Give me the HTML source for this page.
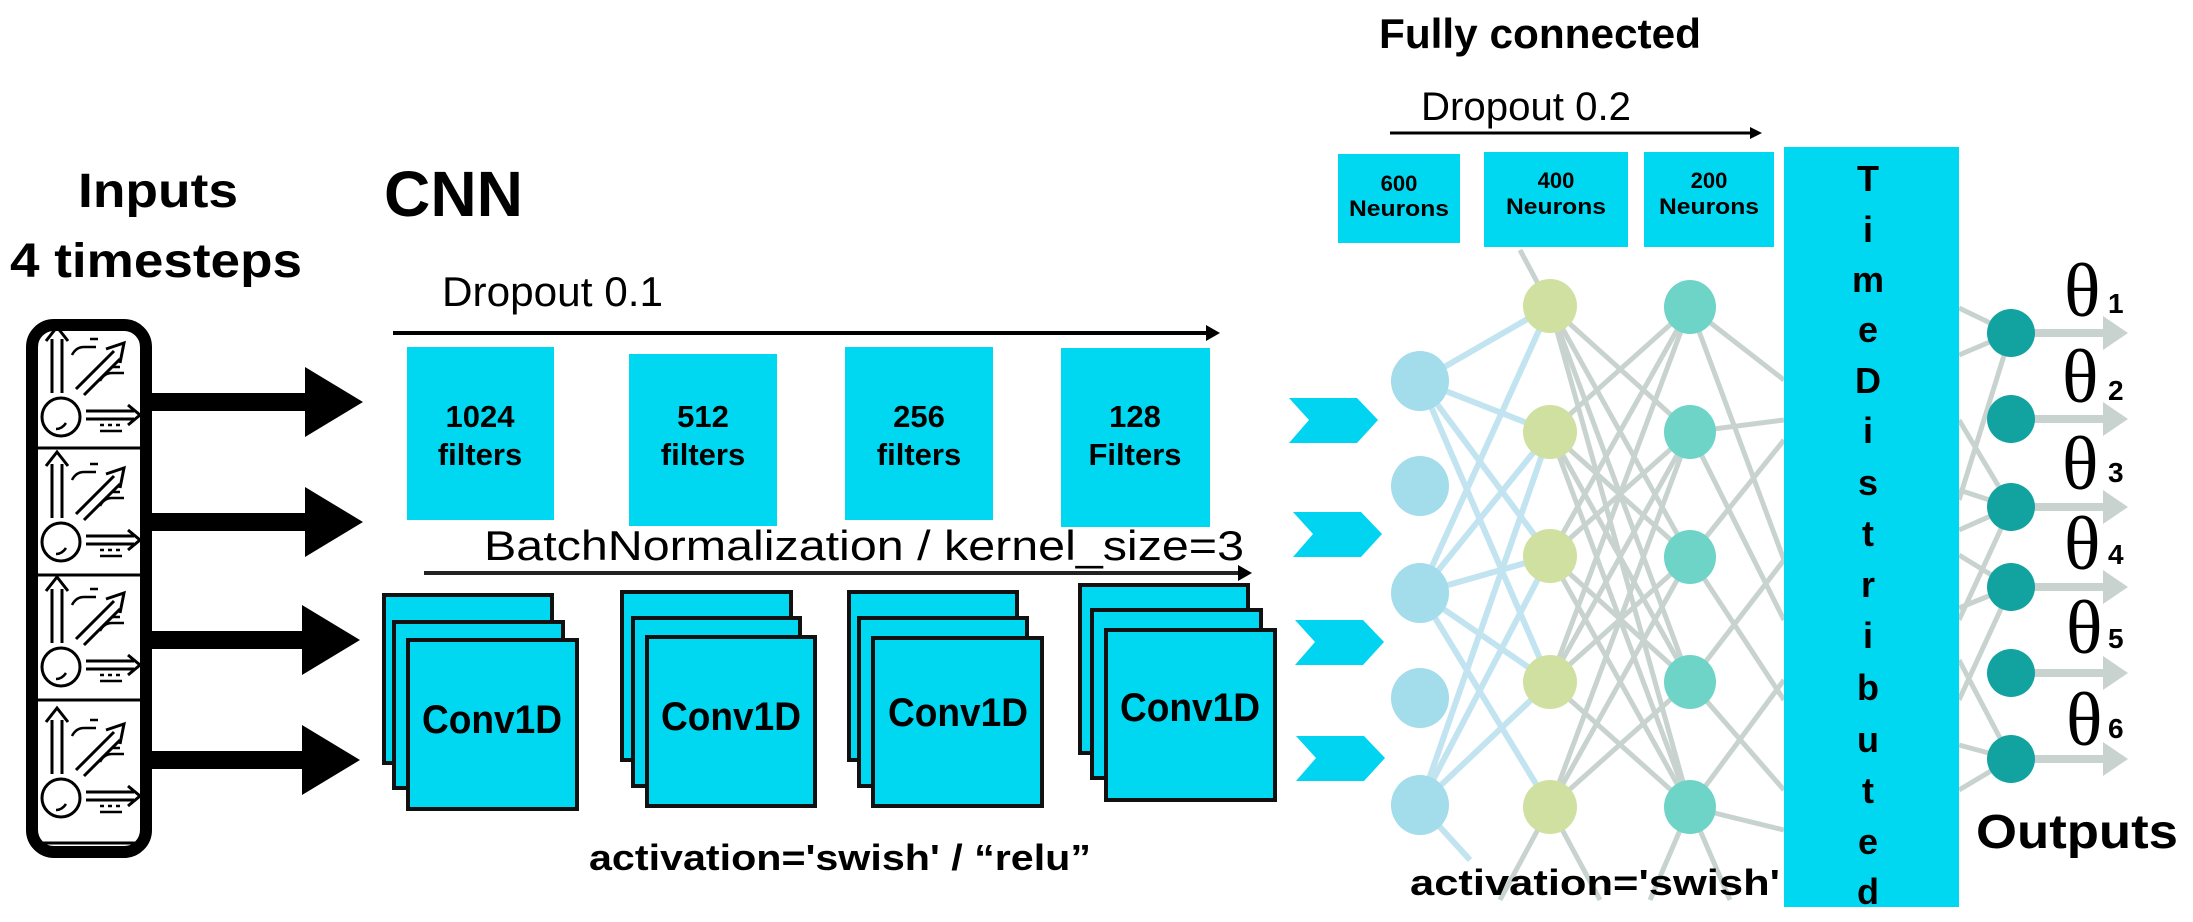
<!DOCTYPE html>
<html><head><meta charset="utf-8"><style>
html,body{margin:0;padding:0;background:#fff;}
svg{display:block;}
text{font-family:"Liberation Sans",sans-serif;}
</style></head><body>
<svg width="2193" height="922" viewBox="0 0 2193 922" xmlns="http://www.w3.org/2000/svg">
<defs>
<g id="cell" fill="none" stroke="#000" stroke-width="3">
  <path d="M52 74 V20 M62 74 V20 M46 22 L57 8 L68 22"/>
  <circle cx="61" cy="98" r="19"/>
  <path d="M66 104 q-4 6 -10 6" stroke-width="2.5"/>
  <path d="M76 70 L114 32 M84 76 L120 40 M106 30 L124 24 L120 44"/>
  <path d="M86 92 H134 M86 100 H134 M128 86 L140 96 L128 106"/>
  <path d="M72 36 q4 -8 12 -8 H96 M90 20 H98" stroke-width="2.5"/>
  <path d="M100 62 q4 -8 12 -8 H124 M112 48 H120" stroke-width="2.5"/>
  <path d="M100 112 H122 M100 106 H104 M108 106 H112 M116 106 H120" stroke-width="2.5"/>
</g>
<g id="chev"><polygon points="0,0 68,0 89,22 68,45 0,45 20,22" fill="#00d4f0"/></g>
</defs>

<!-- Titles -->
<text x="158" y="207" font-size="48" font-weight="bold" text-anchor="middle" textLength="160" lengthAdjust="spacingAndGlyphs">Inputs</text>
<text x="156" y="277" font-size="48" font-weight="bold" text-anchor="middle" textLength="292" lengthAdjust="spacingAndGlyphs">4 timesteps</text>
<text x="384" y="216" font-size="64" font-weight="bold" textLength="139" lengthAdjust="spacingAndGlyphs">CNN</text>
<text x="442" y="306" font-size="42" textLength="221" lengthAdjust="spacingAndGlyphs">Dropout 0.1</text>

<!-- Input box -->
<rect x="32" y="325" width="114" height="527" rx="22" fill="#fff" stroke="#000" stroke-width="12"/>
<g stroke="#000" stroke-width="3">
<line x1="38" y1="448" x2="140" y2="448"/><line x1="38" y1="575" x2="140" y2="575"/><line x1="38" y1="700" x2="140" y2="700"/><line x1="38" y1="843" x2="140" y2="843"/>
</g>
<use href="#cell" x="0" y="319"/>
<use href="#cell" x="0" y="444"/>
<use href="#cell" x="0" y="569"/>
<use href="#cell" x="0" y="700"/>

<!-- black arrows -->
<g fill="#000">
<rect x="150" y="393" width="158" height="18"/><polygon points="305,367 363,402 305,437"/>
<rect x="150" y="513" width="158" height="18"/><polygon points="305,487 363,522 305,557"/>
<rect x="150" y="631" width="158" height="18"/><polygon points="302,605 360,640 302,675"/>
<rect x="150" y="751" width="158" height="18"/><polygon points="302,725 360,760 302,795"/>
</g>

<!-- Dropout 0.1 arrow -->
<line x1="393" y1="333" x2="1212" y2="333" stroke="#000" stroke-width="4"/>
<polygon points="1206,325 1220,333 1206,341" fill="#000"/>

<!-- filter boxes -->
<g fill="#00d8f2">
<rect x="407" y="347" width="147" height="173"/>
<rect x="629" y="354" width="148" height="172"/>
<rect x="845" y="347" width="148" height="173"/>
<rect x="1061" y="348" width="149" height="179"/>
</g>
<g font-size="31" font-weight="bold" text-anchor="middle" fill="#000">
<text x="480" y="427">1024</text><text x="480" y="465">filters</text>
<text x="703" y="427">512</text><text x="703" y="465">filters</text>
<text x="919" y="427">256</text><text x="919" y="465">filters</text>
<text x="1135" y="427">128</text><text x="1135" y="465">Filters</text>
</g>

<text x="484" y="560" font-size="42" textLength="760" lengthAdjust="spacingAndGlyphs">BatchNormalization / kernel_size=3</text>
<line x1="424" y1="573" x2="1244" y2="573" stroke="#222" stroke-width="4"/>
<polygon points="1238,565 1252,573 1238,581" fill="#000"/>

<!-- Conv stacks -->
<g fill="#00d8f2" stroke="#111" stroke-width="4">
<rect x="384" y="595" width="168" height="168"/><rect x="394" y="622" width="169" height="166"/><rect x="408" y="640" width="169" height="169"/>
<rect x="622" y="592" width="169" height="168"/><rect x="633" y="618" width="167" height="168"/><rect x="647" y="637" width="168" height="169"/>
<rect x="849" y="592" width="168" height="168"/><rect x="859" y="618" width="168" height="168"/><rect x="873" y="638" width="169" height="168"/>
<rect x="1080" y="585" width="168" height="168"/><rect x="1092" y="610" width="169" height="168"/><rect x="1106" y="630" width="169" height="170"/>
</g>
<g font-size="40" font-weight="bold" text-anchor="middle">
<text x="492" y="733" textLength="140" lengthAdjust="spacingAndGlyphs">Conv1D</text>
<text x="731" y="730" textLength="140" lengthAdjust="spacingAndGlyphs">Conv1D</text>
<text x="958" y="726" textLength="140" lengthAdjust="spacingAndGlyphs">Conv1D</text>
<text x="1190" y="721" textLength="140" lengthAdjust="spacingAndGlyphs">Conv1D</text>
</g>
<text x="589" y="870" font-size="36" font-weight="bold" textLength="502" lengthAdjust="spacingAndGlyphs">activation='swish' / “relu”</text>

<!-- Right side titles -->
<text x="1379" y="48" font-size="42" font-weight="bold" textLength="322" lengthAdjust="spacingAndGlyphs">Fully connected</text>
<text x="1421" y="120" font-size="40" textLength="210" lengthAdjust="spacingAndGlyphs">Dropout 0.2</text>
<line x1="1390" y1="133" x2="1755" y2="133" stroke="#000" stroke-width="3"/>
<polygon points="1750,127 1762,133 1750,139" fill="#000"/>

<g fill="#00d8f2">
<rect x="1338" y="154" width="122" height="89"/>
<rect x="1484" y="152" width="144" height="95"/>
<rect x="1644" y="152" width="130" height="95"/>
</g>
<g font-size="22" font-weight="bold" text-anchor="middle">
<text x="1399" y="191">600</text><text x="1399" y="216" textLength="100" lengthAdjust="spacingAndGlyphs">Neurons</text>
<text x="1556" y="188">400</text><text x="1556" y="214" textLength="100" lengthAdjust="spacingAndGlyphs">Neurons</text>
<text x="1709" y="188">200</text><text x="1709" y="214" textLength="100" lengthAdjust="spacingAndGlyphs">Neurons</text>
</g>

<!-- chevrons -->
<use href="#chev" x="1289" y="398"/>
<use href="#chev" x="1293" y="512"/>
<use href="#chev" x="1295" y="620"/>
<use href="#chev" x="1296" y="736"/>

<!-- connections layer1 -> layer2 -->
<g stroke="#c2e4f1" stroke-width="6">
<line x1="1420" y1="381" x2="1550" y2="306"/><line x1="1420" y1="381" x2="1550" y2="432"/><line x1="1420" y1="381" x2="1550" y2="556"/><line x1="1420" y1="381" x2="1550" y2="682"/>
<line x1="1420" y1="593" x2="1550" y2="306"/><line x1="1420" y1="593" x2="1550" y2="432"/><line x1="1420" y1="593" x2="1550" y2="556"/><line x1="1420" y1="593" x2="1550" y2="682"/><line x1="1420" y1="593" x2="1550" y2="807"/>
<line x1="1420" y1="805" x2="1550" y2="432"/><line x1="1420" y1="805" x2="1550" y2="556"/><line x1="1420" y1="805" x2="1550" y2="682"/><line x1="1420" y1="805" x2="1470" y2="860"/>
</g>
<!-- layer2 -> layer3 -->
<g stroke="#c8d3d0" stroke-width="5">
<line x1="1550" y1="306" x2="1690" y2="432"/><line x1="1550" y1="306" x2="1690" y2="557"/><line x1="1550" y1="306" x2="1690" y2="682"/><line x1="1550" y1="306" x2="1690" y2="807"/>
<line x1="1550" y1="432" x2="1690" y2="307"/><line x1="1550" y1="432" x2="1690" y2="557"/><line x1="1550" y1="432" x2="1690" y2="682"/><line x1="1550" y1="432" x2="1690" y2="807"/>
<line x1="1550" y1="556" x2="1690" y2="307"/><line x1="1550" y1="556" x2="1690" y2="432"/><line x1="1550" y1="556" x2="1690" y2="682"/><line x1="1550" y1="556" x2="1690" y2="807"/>
<line x1="1550" y1="682" x2="1690" y2="307"/><line x1="1550" y1="682" x2="1690" y2="432"/><line x1="1550" y1="682" x2="1690" y2="557"/><line x1="1550" y1="682" x2="1690" y2="807"/>
<line x1="1550" y1="807" x2="1690" y2="432"/><line x1="1550" y1="807" x2="1690" y2="557"/><line x1="1550" y1="807" x2="1690" y2="682"/>
<line x1="1550" y1="306" x2="1520" y2="250"/><line x1="1550" y1="807" x2="1600" y2="900"/><line x1="1550" y1="807" x2="1500" y2="900"/>
<line x1="1690" y1="307" x2="1784" y2="380"/><line x1="1690" y1="307" x2="1784" y2="560"/><line x1="1690" y1="432" x2="1784" y2="420"/><line x1="1690" y1="432" x2="1784" y2="620"/>
<line x1="1690" y1="557" x2="1784" y2="700"/><line x1="1690" y1="557" x2="1784" y2="440"/><line x1="1690" y1="682" x2="1784" y2="560"/><line x1="1690" y1="682" x2="1784" y2="790"/>
<line x1="1690" y1="807" x2="1784" y2="830"/><line x1="1690" y1="807" x2="1784" y2="680"/><line x1="1690" y1="807" x2="1650" y2="900"/><line x1="1690" y1="807" x2="1730" y2="900"/>
<line x1="1959" y1="308" x2="2011" y2="333"/><line x1="1959" y1="355" x2="2011" y2="333"/><line x1="1959" y1="500" x2="2011" y2="333"/>
<line x1="1959" y1="490" x2="2011" y2="507"/><line x1="1959" y1="420" x2="2011" y2="507"/><line x1="1959" y1="530" x2="2011" y2="507"/><line x1="1959" y1="620" x2="2011" y2="507"/>
<line x1="1959" y1="555" x2="2011" y2="587"/><line x1="1959" y1="608" x2="2011" y2="587"/><line x1="1959" y1="700" x2="2011" y2="587"/>
<line x1="1959" y1="660" x2="2011" y2="759"/><line x1="1959" y1="745" x2="2011" y2="759"/><line x1="1959" y1="790" x2="2011" y2="759"/>
</g>
<!-- output arrows -->
<g stroke="#c8d3d0" stroke-width="8">
<line x1="2011" y1="333" x2="2105" y2="333"/><line x1="2011" y1="419" x2="2105" y2="419"/><line x1="2011" y1="507" x2="2105" y2="507"/>
<line x1="2011" y1="587" x2="2105" y2="587"/><line x1="2011" y1="673" x2="2105" y2="673"/><line x1="2011" y1="759" x2="2105" y2="759"/>
</g>
<g fill="#c8d3d0">
<polygon points="2103,316 2128,333 2103,350"/><polygon points="2103,402 2128,419 2103,436"/><polygon points="2103,490 2128,507 2103,524"/>
<polygon points="2103,570 2128,587 2103,604"/><polygon points="2103,656 2128,673 2103,690"/><polygon points="2103,742 2128,759 2103,776"/>
</g>

<!-- neurons -->
<g fill="#a3dcea">
<ellipse cx="1420" cy="381" rx="29" ry="30"/><ellipse cx="1420" cy="486" rx="29" ry="30"/><ellipse cx="1420" cy="593" rx="29" ry="30"/><ellipse cx="1420" cy="698" rx="29" ry="30"/><ellipse cx="1420" cy="805" rx="29" ry="30"/>
</g>
<g fill="#d0e0a0">
<ellipse cx="1550" cy="306" rx="27" ry="27"/><ellipse cx="1550" cy="432" rx="27" ry="27"/><ellipse cx="1550" cy="556" rx="27" ry="27"/><ellipse cx="1550" cy="682" rx="27" ry="27"/><ellipse cx="1550" cy="807" rx="27" ry="27"/>
</g>
<g fill="#6fd4c8">
<ellipse cx="1690" cy="307" rx="26" ry="27"/><ellipse cx="1690" cy="432" rx="26" ry="27"/><ellipse cx="1690" cy="557" rx="26" ry="27"/><ellipse cx="1690" cy="682" rx="26" ry="27"/><ellipse cx="1690" cy="807" rx="26" ry="27"/>
</g>
<g fill="#12a3a1">
<ellipse cx="2011" cy="333" rx="24" ry="24"/><ellipse cx="2011" cy="419" rx="24" ry="24"/><ellipse cx="2011" cy="507" rx="24" ry="24"/><ellipse cx="2011" cy="587" rx="24" ry="24"/><ellipse cx="2011" cy="673" rx="24" ry="24"/><ellipse cx="2011" cy="759" rx="24" ry="24"/>
</g>

<!-- TimeDistributed bar -->
<rect x="1784" y="147" width="175" height="760" fill="#00d8f2"/>
<g font-size="36" font-weight="bold" text-anchor="middle">
<text x="1868" y="191">T</text><text x="1868" y="242">i</text><text x="1868" y="292">m</text><text x="1868" y="342">e</text><text x="1868" y="393">D</text>
<text x="1868" y="443">i</text><text x="1868" y="495">s</text><text x="1868" y="546">t</text><text x="1868" y="597">r</text><text x="1868" y="648">i</text>
<text x="1868" y="700">b</text><text x="1868" y="752">u</text><text x="1868" y="803">t</text><text x="1868" y="854">e</text><text x="1868" y="904">d</text>
</g>

<!-- thetas -->
<g font-size="76">
<text x="2064" y="316" style="font-family:'Liberation Serif',serif">θ</text>
<text x="2062" y="402" style="font-family:'Liberation Serif',serif">θ</text>
<text x="2062" y="489" style="font-family:'Liberation Serif',serif">θ</text>
<text x="2064" y="569" style="font-family:'Liberation Serif',serif">θ</text>
<text x="2066" y="653" style="font-family:'Liberation Serif',serif">θ</text>
<text x="2066" y="745" style="font-family:'Liberation Serif',serif">θ</text>
</g>
<g font-size="28" font-weight="bold">
<text x="2108" y="313">1</text><text x="2108" y="400">2</text><text x="2108" y="482">3</text>
<text x="2108" y="564">4</text><text x="2108" y="648">5</text><text x="2108" y="738">6</text>
</g>

<text x="1976" y="848" font-size="48" font-weight="bold" textLength="202" lengthAdjust="spacingAndGlyphs">Outputs</text>
<text x="1410" y="895" font-size="36" font-weight="bold" textLength="370" lengthAdjust="spacingAndGlyphs">activation='swish'</text>
</svg>
</body></html>
